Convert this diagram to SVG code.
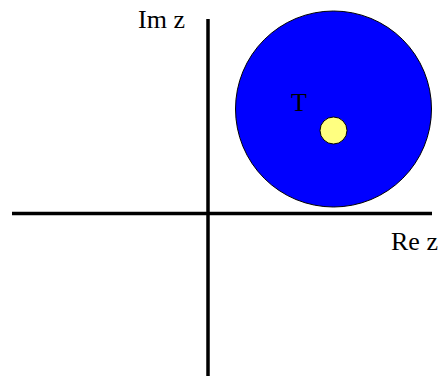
<svg xmlns="http://www.w3.org/2000/svg" width="446" height="376" viewBox="0 0 446 376">
<style>
.ax{stroke:#000;stroke-width:3.5;fill:none}
.lbl{font-family:"Liberation Serif","Times New Roman",serif;font-size:26px;fill:#000}
</style>
<rect width="446" height="376" fill="#fff"/>
<g id="connectors">
<line class="ax" x1="208" y1="19" x2="208" y2="376"/>
<line class="ax" x1="12" y1="213.5" x2="432" y2="213.5"/>
</g>
<g id="disk">
<circle cx="333.5" cy="109" r="98" fill="#0000ff" stroke="#000" stroke-width="1"/>
</g>
<g id="point">
<circle cx="333.5" cy="130.5" r="13.5" fill="#ffff80" stroke="#000" stroke-width="1"/>
</g>
<g id="label-T"><text class="lbl" x="291" y="111" font-size="28">T</text></g>
<g id="label-Im"><text class="lbl" x="138" y="28">Im z</text></g>
<g id="label-Re"><text class="lbl" x="391" y="250">Re z</text></g>
</svg>
